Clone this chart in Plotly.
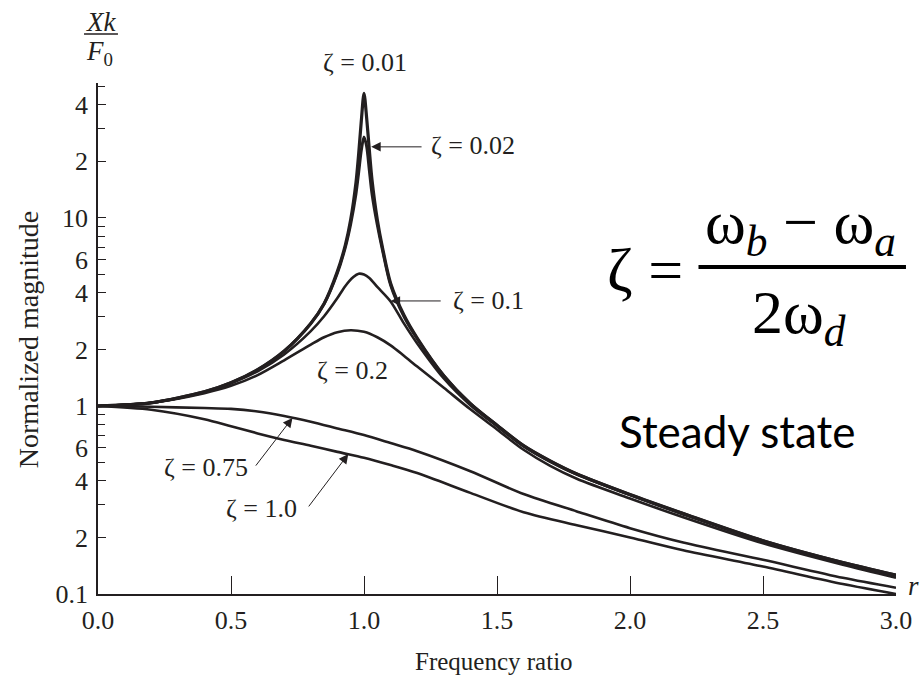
import plotly.graph_objects as go
import math

# Frequency ratio samples and normalized magnitude Xk/F0 for each damping ratio
r_low_damp = [0.0, 0.2, 0.4, 0.5, 0.6, 0.7, 0.8, 0.85, 0.9, 0.93, 0.95, 0.97, 0.98, 0.99,
              1.0, 1.01, 1.02, 1.03, 1.05, 1.07, 1.1, 1.15, 1.2, 1.3, 1.4, 1.5, 1.6, 1.7,
              1.8, 2.0, 2.2, 2.5, 2.8, 3.0]
mag_z001 = [1.0, 1.04, 1.19, 1.33, 1.56, 1.96, 2.75, 3.5, 5.2, 7.2, 9.8, 15.5, 22, 33,
            46, 34, 23, 16, 9.8, 6.9, 4.5, 3.05, 2.3, 1.45, 1.03, 0.79, 0.615, 0.51,
            0.435, 0.338, 0.268, 0.192, 0.147, 0.126]
mag_z002 = [1.0, 1.04, 1.19, 1.33, 1.56, 1.96, 2.75, 3.5, 5.1, 7.0, 9.3, 13.5, 17.5, 23,
            27, 24, 18, 13.5, 9.2, 6.7, 4.4, 3.0, 2.28, 1.45, 1.03, 0.79, 0.615, 0.51,
            0.435, 0.338, 0.268, 0.192, 0.147, 0.126]

r_z01 = [0.0, 0.2, 0.4, 0.5, 0.6, 0.7, 0.8, 0.85, 0.9, 0.93, 0.96, 0.98, 1.0, 1.02,
         1.05, 1.1, 1.15, 1.2, 1.3, 1.4, 1.5, 1.6, 1.7, 1.8, 2.0, 2.2, 2.5, 2.8, 3.0]
mag_z01 = [1.0, 1.04, 1.18, 1.32, 1.53, 1.88, 2.5, 3.0, 3.75, 4.35, 4.85, 5.05, 5.0, 4.8,
           4.3, 3.6, 2.75, 2.15, 1.4, 1.01, 0.78, 0.61, 0.505, 0.432, 0.336, 0.265, 0.19,
           0.146, 0.125]

r_z02 = [0.0, 0.2, 0.4, 0.5, 0.6, 0.7, 0.8, 0.85, 0.9, 0.95, 1.0, 1.05, 1.1, 1.15, 1.2,
         1.3, 1.4, 1.5, 1.6, 1.7, 1.8, 2.0, 2.2, 2.5, 2.8, 3.0]
mag_z02 = [1.0, 1.04, 1.17, 1.28, 1.46, 1.75, 2.12, 2.32, 2.47, 2.53, 2.48, 2.32, 2.1, 1.85, 1.62,
           1.25, 0.96, 0.75, 0.585, 0.48, 0.41, 0.322, 0.256, 0.186, 0.143, 0.122]

r_high_damp = [0.0, 0.2, 0.4, 0.5, 0.6, 0.7, 0.8, 0.9, 1.0, 1.1, 1.2, 1.4, 1.6, 1.8, 2.0,
               2.2, 2.5, 2.8, 3.0]
mag_z075 = [1.0, 0.99, 0.975, 0.965, 0.935, 0.885, 0.825, 0.76, 0.70, 0.635, 0.575, 0.45,
            0.34, 0.275, 0.224, 0.188, 0.152, 0.122, 0.108]
mag_z100 = [1.0, 0.955, 0.85, 0.78, 0.715, 0.66, 0.615, 0.57, 0.53, 0.485, 0.44, 0.345,
            0.272, 0.232, 0.2, 0.171, 0.14, 0.113, 0.1]

x_tick_vals = [0.0, 0.5, 1.0, 1.5, 2.0, 2.5, 3.0]
x_tick_text = ["0.0", "0.5", "1.0", "1.5", "2.0", "2.5", "3.0"]
y_tick_vals = [0.1, 0.2, 0.4, 0.6, 1, 2, 4, 6, 10, 20, 40]
y_tick_text = ["0.1", "2", "4", "6", "1", "2", "4", "6", "10", "2", "4"]
y_minor_vals = [0.3, 0.5, 0.7, 0.8, 0.9, 3, 5, 7, 8, 9, 30, 50]

INK = "#231f20"
SERIF = "Liberation Serif, DejaVu Serif, serif"

curves = [
    (r_low_damp, mag_z001, 3.2),
    (r_low_damp, mag_z002, 3.0),
    (r_z01, mag_z01, 2.6),
    (r_z02, mag_z02, 2.6),
    (r_high_damp, mag_z075, 2.6),
    (r_high_damp, mag_z100, 2.6),
]

fig = go.Figure()
for rr, mm, w in curves:
    fig.add_trace(go.Scatter(x=rr, y=mm, mode="lines",
                             line=dict(color=INK, width=w, shape="spline", smoothing=0.8),
                             showlegend=False, hoverinfo="skip"))

L = math.log10


def px_x(px):
    """Paper x fraction for a horizontal pixel position."""
    return (px - 98) / 800


def px_y(py):
    """Paper y fraction for a vertical pixel position."""
    return (594 - py) / 511


def label(text, x, y, xanchor="center"):
    fig.add_annotation(x=x, y=L(y), xref="x", yref="y", text=text, showarrow=False,
                       xanchor=xanchor, yanchor="middle",
                       font=dict(family=SERIF, size=26, color=INK))


def pointer(x_tip, y_tip, x_tail, y_tail):
    fig.add_annotation(x=x_tip, y=L(y_tip), xref="x", yref="y", text="",
                       showarrow=True, ax=x_tail, ay=L(y_tail), axref="x", ayref="y",
                       arrowhead=2, arrowsize=1.9, arrowwidth=1.0, arrowcolor=INK,
                       standoff=0)


def note(text, px, py, size, family=SERIF, color=INK, angle=0):
    fig.add_annotation(xref="paper", yref="paper", x=px_x(px), y=px_y(py), text=text,
                       showarrow=False, xanchor="center", yanchor="middle", textangle=angle,
                       font=dict(family=family, size=size, color=color))


# Damping-ratio labels
note("ζ = 0.01", 366, 62, 26)
label("ζ = 0.02", 1.245, 24.2, xanchor="left")
pointer(1.027, 23.9, 1.222, 23.9)
label("ζ = 0.1", 1.328, 3.65, xanchor="left")
pointer(1.10, 3.62, 1.294, 3.62)
label("ζ = 0.2", 0.955, 1.54)
label("ζ = 0.75", 0.57, 0.47, xanchor="right")
pointer(0.731, 0.864, 0.589, 0.473)
label("ζ = 1.0", 0.757, 0.285, xanchor="right")
pointer(0.941, 0.555, 0.788, 0.287)

# Axis titles and the r marker
note("Frequency ratio", 495, 661, 25)
note("Normalized magnitude", 28, 340, 28, angle=-90)
note("<i>r</i>", 916, 586, 27)

# Xk / F0 fraction above the y axis
note("<i>Xk</i>", 101, 22, 27)
note("<i>F</i><sub>0</sub>", 100, 53, 27)
fig.add_shape(type="line", xref="paper", yref="paper",
              x0=px_x(84), x1=px_x(118), y0=px_y(34), y1=px_y(34),
              line=dict(color=INK, width=1.3))

# Half-power bandwidth relation
note("ζ =", 646, 270, 62, color="black")
note("ω<sub><i>b</i></sub> − ω<sub><i>a</i></sub>", 802, 226, 62, color="black")
note("2ω<sub><i>d</i></sub>", 801, 316, 62, color="black")
fig.add_shape(type="line", xref="paper", yref="paper",
              x0=px_x(700), x1=px_x(908), y0=px_y(267), y1=px_y(267),
              line=dict(color="black", width=4))

note("Steady state", 739, 431, 44, family="Lato", color="black")

fig.update_layout(
    width=924, height=675,
    margin=dict(l=98, r=26, t=83, b=81),
    paper_bgcolor="white", plot_bgcolor="white",
    font=dict(family=SERIF, color=INK),
)
fig.update_xaxes(range=[0, 3], tickvals=x_tick_vals, ticktext=x_tick_text,
                 ticks="inside", ticklen=18, tickwidth=1.4, tickcolor=INK,
                 showline=True, linecolor=INK, linewidth=1.6, showgrid=False, zeroline=False,
                 tickfont=dict(family=SERIF, size=26, color=INK), ticklabelstandoff=2)
fig.update_yaxes(type="log", range=[-1, 1.718], tickvals=y_tick_vals, ticktext=y_tick_text,
                 ticks="inside", ticklen=8, tickwidth=1.4, tickcolor=INK,
                 minor=dict(tickvals=y_minor_vals, ticks="inside", ticklen=7, tickwidth=1.4,
                            tickcolor=INK, showgrid=False),
                 showline=True, linecolor=INK, linewidth=1.6, showgrid=False, zeroline=False,
                 tickfont=dict(family=SERIF, size=26, color=INK), ticklabelstandoff=3)

fig.write_html("out.html")
